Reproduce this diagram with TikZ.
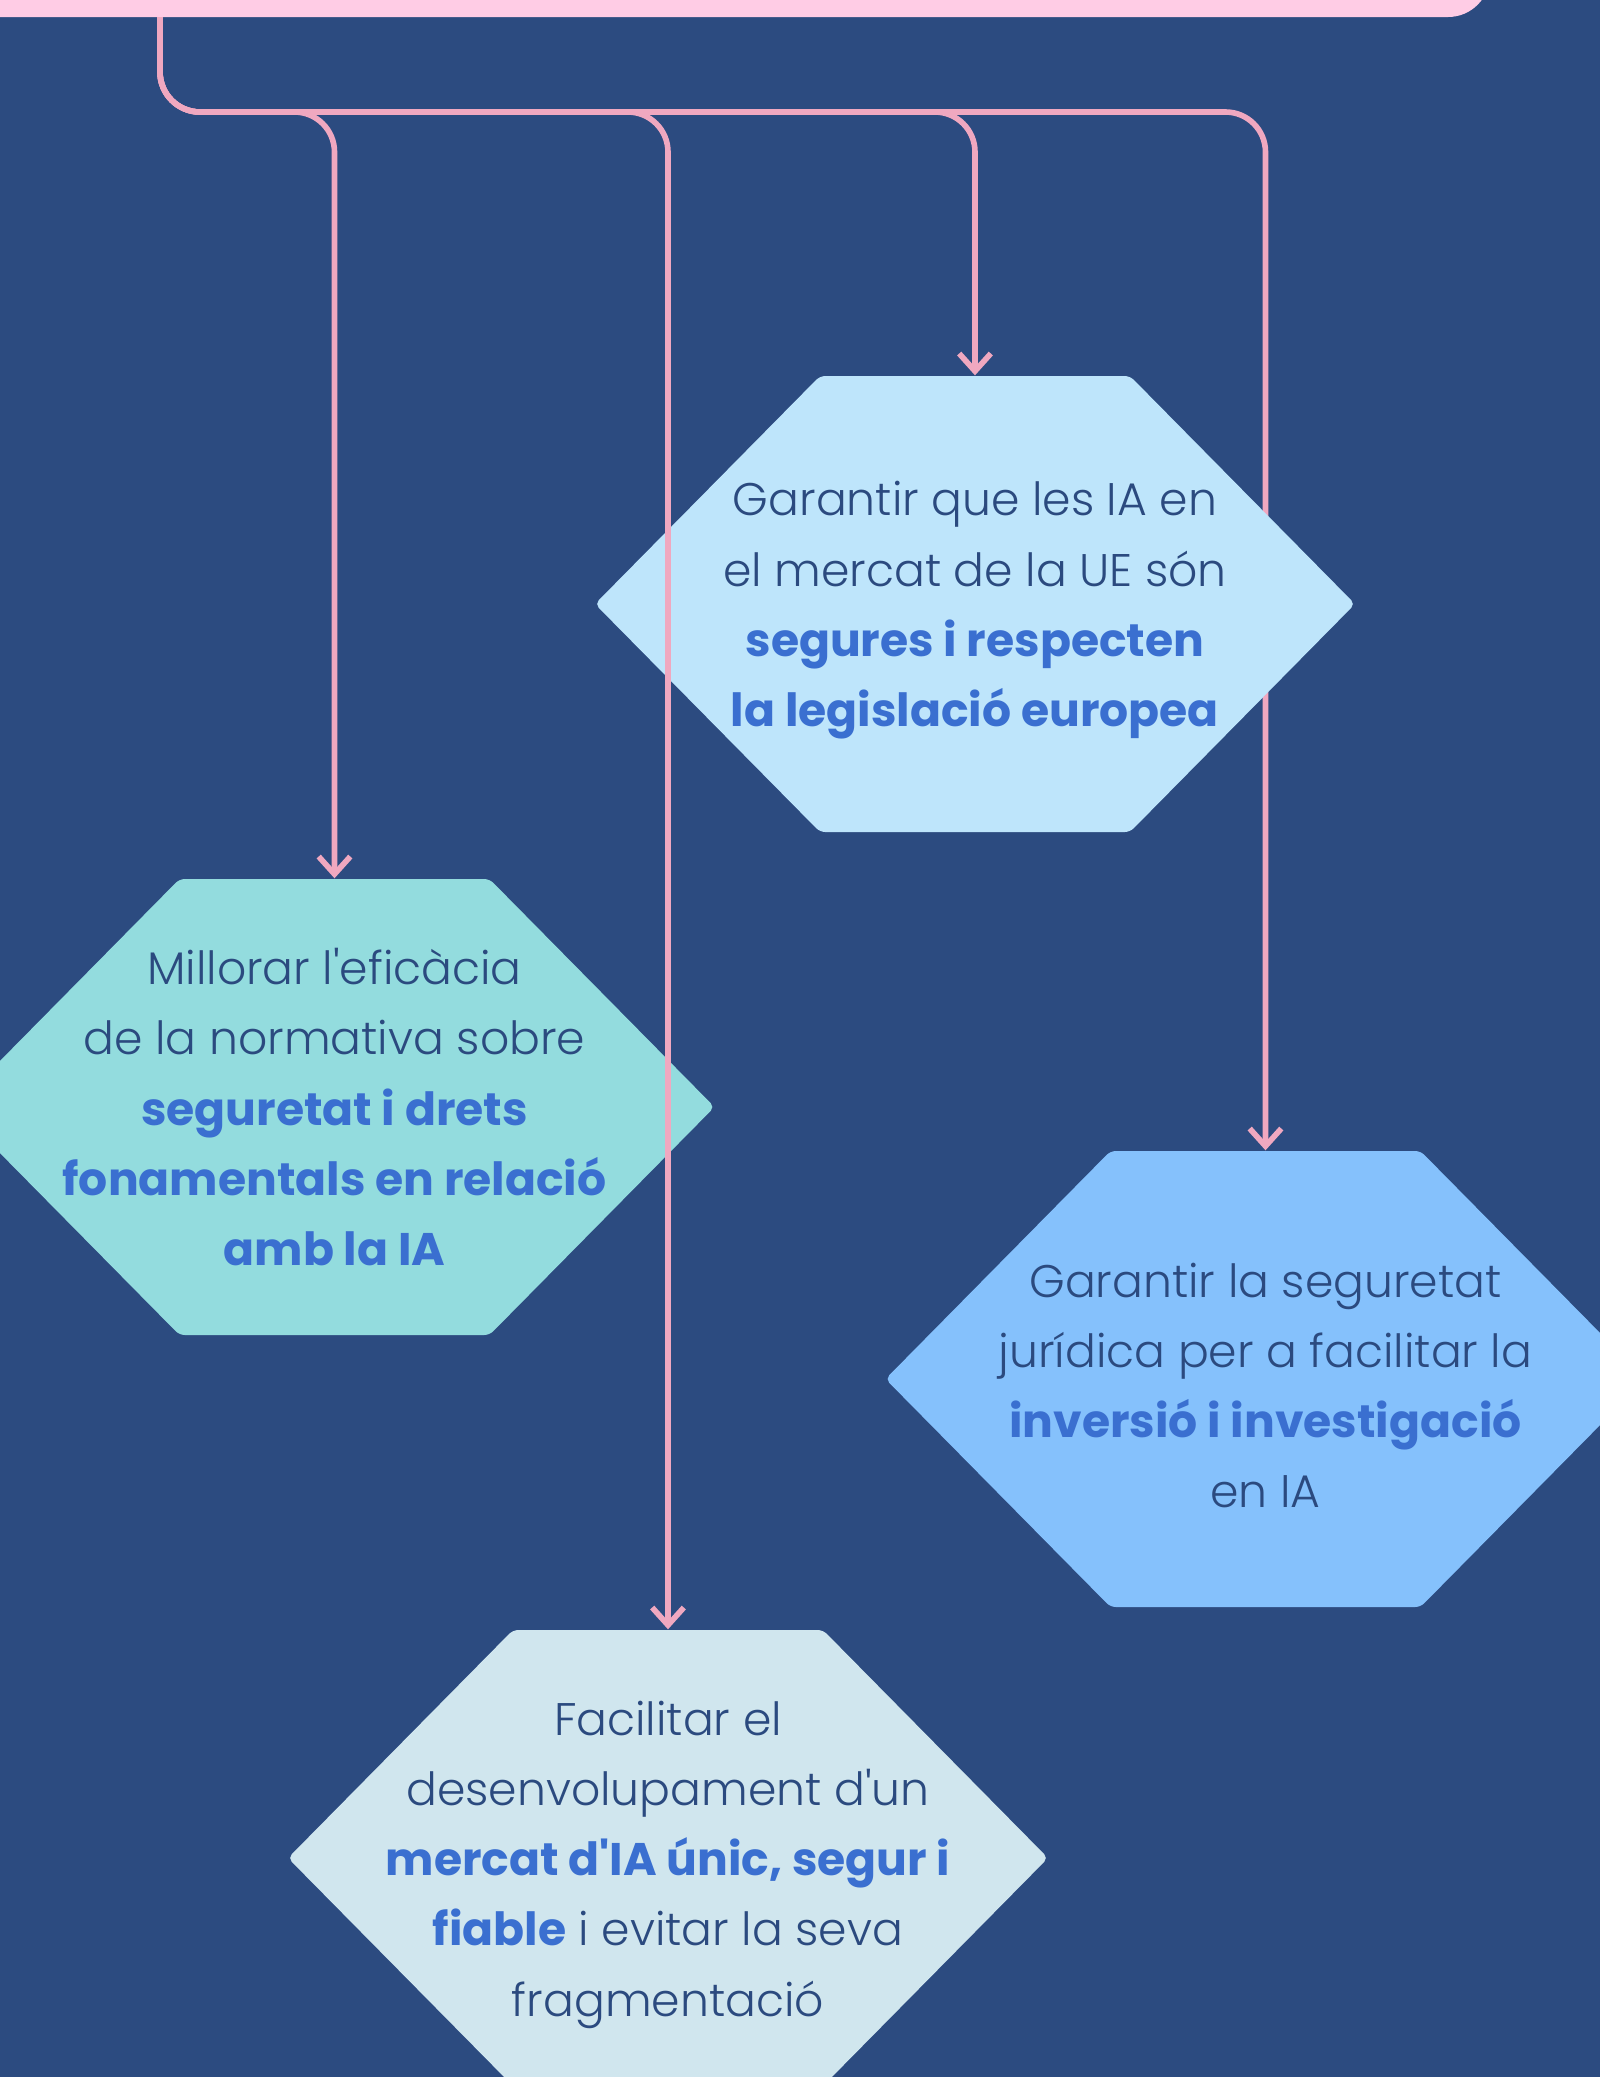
\documentclass[tikz,border=0pt]{standalone}
\usepackage{fontspec}
\setmainfont{Poppins Light}[BoldFont={Poppins Bold}, Ligatures=TeXOff]
\usetikzlibrary{arrows.meta}

\definecolor{bgblue}{HTML}{2C4B80}
\definecolor{barpink}{HTML}{FFCCE5}
\definecolor{linkpink}{HTML}{F0A8C0}
\definecolor{textblue}{HTML}{2B4A7F}
\definecolor{keyblue}{HTML}{3A6FD0}
\definecolor{hexsky}{HTML}{BEE5FB}
\definecolor{hexteal}{HTML}{93DCDE}
\definecolor{hexazure}{HTML}{85C1FC}
\definecolor{hexpale}{HTML}{D0E6EE}

\newcommand{\hilite}[1]{\textbf{\color{keyblue}#1}}
% hexagon behind a goal, centred at #1
\newcommand{\goalhex}[2]{%
  \fill[#2, rounded corners=1.5pt] (#1) ++(-1.55,2.28) -- ++(3.1,0) -- ++(2.25,-2.28)
    -- ++(-2.25,-2.28) -- ++(-3.1,0) -- ++(-2.25,2.28) -- cycle;}

\tikzset{
  goal/.style={text=textblue, align=center, inner sep=0pt, minimum height=4.69cm,
    yshift=-0.065cm, font=\fontsize{13}{20}\selectfont},
  link/.style={draw=linkpink, line width=1.6pt, rounded corners=0.4cm,
    -{Straight Barb[length=5pt,width=9pt]}}
}

\begin{document}
\begin{tikzpicture}
    \useasboundingbox (0,0) rectangle (16,-20.77);
    \clip (0,0) rectangle (16,-20.77);
    \fill[bgblue] (0,0) rectangle (16,-20.77);
    % header bar
    \fill[barpink, rounded corners=0.42cm] (-1,1) rectangle (14.9,-0.17);
    \coordinate (trunk) at (1.6,-0.17);
    \coordinate (hub) at (1.6,-1.12);

    \goalhex{12.655,-13.79}{hexazure}
    \node[goal] (seguretat) at (12.655,-13.79) {Garantir la seguretat\\jurídica per a facilitar la\\\hilite{inversió i investigació}\\en IA};
    \draw[link] (trunk) -- (hub) -- (hub -| seguretat.north) -- (seguretat.north);

    \goalhex{9.75,-6.04}{hexsky}
    \node[goal] (mercat) at (9.75,-6.04) {Garantir que les IA en\\el mercat de la UE són\\\hilite{segures i respecten}\\\hilite{la legislació europea}};
    \goalhex{3.345,-11.07}{hexteal}
    \node[goal, minimum height=4.56cm, yshift=0.065cm] (normativa) at (3.345,-11.07) {Millorar l'eficàcia\\de la normativa sobre\\\hilite{seguretat i drets}\\\hilite{fonamentals en relació}\\\hilite{amb la IA}};
    \goalhex{6.68,-18.58}{hexpale}
    \node[goal] (unic) at (6.68,-18.58) {Facilitar el\\desenvolupament d'un\\\hilite{mercat d'IA únic, segur i}\\\hilite{fiable} i evitar la seva\\fragmentació};

    \draw[link] (trunk) -- (hub) -- (hub -| normativa.north) -- (normativa.north);
    \draw[link] (trunk) -- (hub) -- (hub -| unic.north) -- (unic.north);
    \draw[link] (trunk) -- (hub) -- (hub -| mercat.north) -- (mercat.north);
\end{tikzpicture}
\end{document}
